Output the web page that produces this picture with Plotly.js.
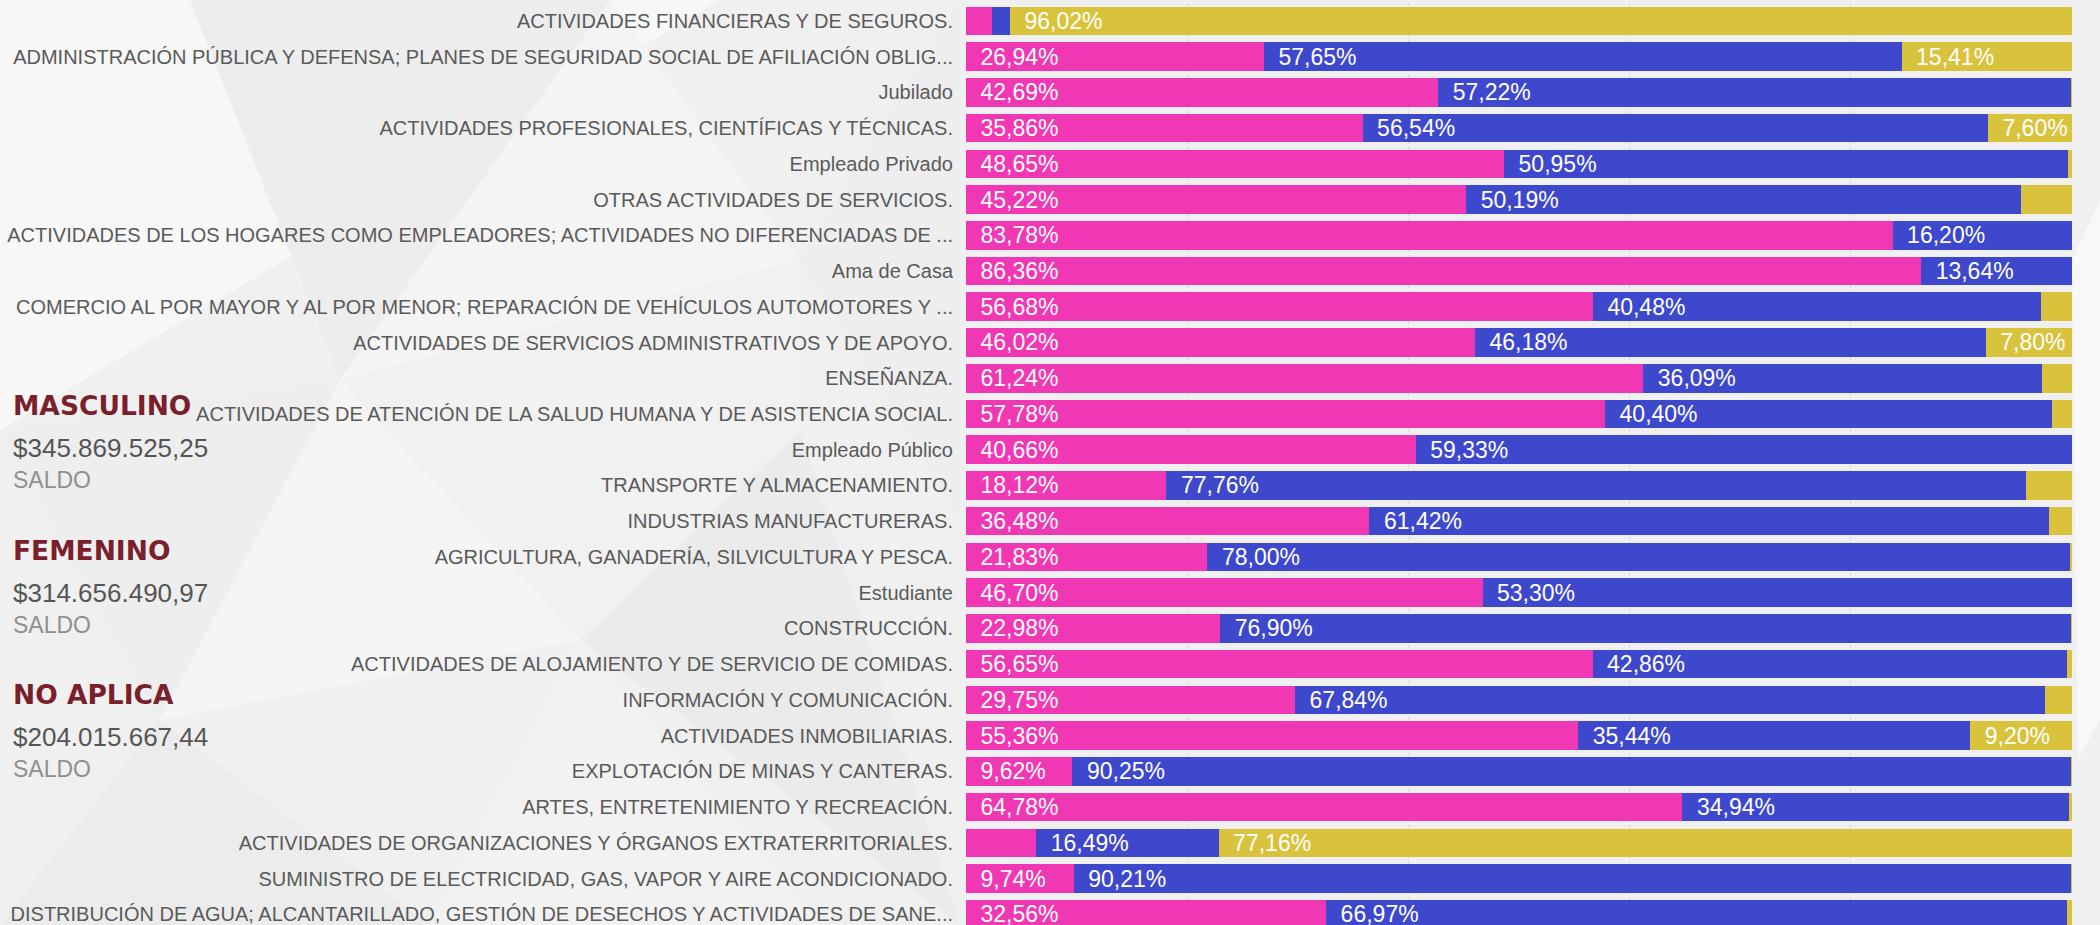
<!DOCTYPE html>
<html>
<head>
<meta charset="utf-8">
<script src="https://cdn.plot.ly/plotly-3.0.1.min.js"></script>
<style>
html,body{margin:0;padding:0;overflow:hidden;width:2100px;height:925px;}
body{background:rgb(240,240,240) url("data:image/svg+xml;utf8,<svg xmlns='http://www.w3.org/2000/svg' width='2100' height='925'><rect width='2100' height='925' fill='rgb(240,240,240)'/><polygon points='0,0 720,0 0,430' fill='rgb(247,247,247)'/><polygon points='190,0 610,0 340,380' fill='rgb(237,237,237)'/><polygon points='340,380 610,0 800,260' fill='rgb(244,244,244)'/><polygon points='0,430 340,380 160,720' fill='rgb(238,238,238)'/><polygon points='160,720 340,380 580,640' fill='rgb(245,245,245)'/><polygon points='0,925 160,720 430,925' fill='rgb(236,236,236)'/><polygon points='430,925 580,640 820,925' fill='rgb(242,242,242)'/><polygon points='580,640 800,430 960,925' fill='rgb(235,235,235)'/><polygon points='800,260 960,0 960,520' fill='rgb(238,238,238)'/><polygon points='340,380 800,260 800,430 580,640' fill='rgb(241,241,241)'/><polygon points='2072,260 2100,200 2100,720 2078,760' fill='rgb(248,248,248)'/></svg>") no-repeat;}
#chart{width:2100px;height:925px;}
</style>
</head>
<body>
<div id="chart"></div>
<script>
// ---- data ----
const categories = [
  "ACTIVIDADES FINANCIERAS Y DE SEGUROS.",
  "ADMINISTRACIÓN PÚBLICA Y DEFENSA; PLANES DE SEGURIDAD SOCIAL DE AFILIACIÓN OBLIG...",
  "Jubilado",
  "ACTIVIDADES PROFESIONALES, CIENTÍFICAS Y TÉCNICAS.",
  "Empleado Privado",
  "OTRAS ACTIVIDADES DE SERVICIOS.",
  "ACTIVIDADES DE LOS HOGARES COMO EMPLEADORES; ACTIVIDADES NO DIFERENCIADAS DE ...",
  "Ama de Casa",
  "COMERCIO AL POR MAYOR Y AL POR MENOR; REPARACIÓN DE VEHÍCULOS AUTOMOTORES Y ...",
  "ACTIVIDADES DE SERVICIOS ADMINISTRATIVOS Y DE APOYO.",
  "ENSEÑANZA.",
  "ACTIVIDADES DE ATENCIÓN DE LA SALUD HUMANA Y DE ASISTENCIA SOCIAL.",
  "Empleado Público",
  "TRANSPORTE Y ALMACENAMIENTO.",
  "INDUSTRIAS MANUFACTURERAS.",
  "AGRICULTURA, GANADERÍA, SILVICULTURA Y PESCA.",
  "Estudiante",
  "CONSTRUCCIÓN.",
  "ACTIVIDADES DE ALOJAMIENTO Y DE SERVICIO DE COMIDAS.",
  "INFORMACIÓN Y COMUNICACIÓN.",
  "ACTIVIDADES INMOBILIARIAS.",
  "EXPLOTACIÓN DE MINAS Y CANTERAS.",
  "ARTES, ENTRETENIMIENTO Y RECREACIÓN.",
  "ACTIVIDADES DE ORGANIZACIONES Y ÓRGANOS EXTRATERRITORIALES.",
  "SUMINISTRO DE ELECTRICIDAD, GAS, VAPOR Y AIRE ACONDICIONADO.",
  "DISTRIBUCIÓN DE AGUA; ALCANTARILLADO, GESTIÓN DE DESECHOS Y ACTIVIDADES DE SANE..."
];
const femenino = [2.36, 26.94, 42.69, 35.86, 48.65, 45.22, 83.78, 86.36, 56.68, 46.02, 61.24, 57.78, 40.66, 18.12, 36.48, 21.83, 46.70, 22.98, 56.65, 29.75, 55.36, 9.62, 64.78, 6.35, 9.74, 32.56];
const masculino = [1.62, 57.65, 57.22, 56.54, 50.95, 50.19, 16.20, 13.64, 40.48, 46.18, 36.09, 40.40, 59.33, 77.76, 61.42, 78.00, 53.30, 76.90, 42.86, 67.84, 35.44, 90.25, 34.94, 16.49, 90.21, 66.97];
const noAplica = [96.02, 15.41, 0.09, 7.60, 0.40, 4.59, 0.02, 0.00, 2.84, 7.80, 2.67, 1.82, 0.01, 4.12, 2.10, 0.17, 0.00, 0.12, 0.49, 2.41, 9.20, 0.13, 0.28, 77.16, 0.05, 0.47];
const seriesNames = ["FEMENINO", "MASCULINO", "NO APLICA"];
const cardNames = ["MASCULINO", "FEMENINO", "NO APLICA"];
const cardValues = ["$345.869.525,25", "$314.656.490,97", "$204.015.667,44"];
const cardLabel = "SALDO";

// ---- layout helpers ----
const W = 2100, H = 925;
const M = {l: 966, r: 28, t: 3, b: 0};
const PW = W - M.l - M.r, PH = H - M.t - M.b;
const px2x = p => (p - M.l) / PW;
const py2y = p => 1 - (p - M.t) / PH;
const FONT = "Liberation Sans, Arial, sans-serif";
const colors = ["#F038B4", "#3E48CD", "#D9C23C"];

const fmt = v => v >= 7 ? "\u2002" + v.toFixed(2).replace(".", ",") + "%" : "";

const traces = [femenino, masculino, noAplica].map((vals, i) => ({
  type: "bar",
  orientation: "h",
  name: seriesNames[i],
  y: categories,
  x: vals,
  text: vals.map(fmt),
  textposition: "inside",
  insidetextanchor: "start",
  constraintext: "none",
  textfont: {family: FONT, size: 23, color: "#ffffff"},
  marker: {color: colors[i], line: {width: 0}},
  hoverinfo: "skip",
  cliponaxis: true
}));

const annotations = [];
const cardY = [405, 550, 694];
cardNames.forEach((n, i) => {
  const y0 = cardY[i];
  annotations.push({xref: "paper", yref: "paper", x: px2x(11), y: py2y(y0), xanchor: "left", yanchor: "middle", showarrow: false,
    text: "<b>" + n + "</b>", font: {family: "DejaVu Sans, sans-serif", size: 26.5, color: "#7A1F2C"}});
  annotations.push({xref: "paper", yref: "paper", x: px2x(11), y: py2y(y0 + 43), xanchor: "left", yanchor: "middle", showarrow: false,
    text: cardValues[i], font: {family: FONT, size: 26, color: "#555555"}});
  annotations.push({xref: "paper", yref: "paper", x: px2x(11), y: py2y(y0 + 75), xanchor: "left", yanchor: "middle", showarrow: false,
    text: cardLabel, font: {family: FONT, size: 23, color: "#8f8f8f"}});
});

const layout = {
  width: W, height: H,
  margin: M,
  paper_bgcolor: "rgba(0,0,0,0)",
  plot_bgcolor: "rgba(0,0,0,0)",
  barmode: "stack",
  bargap: 0.2,
  showlegend: false,
  xaxis: {range: [0, 100], dtick: 20, showgrid: true, gridcolor: "#d6d6d6", griddash: "dot", gridwidth: 1,
          showticklabels: false, zeroline: false, showline: false, fixedrange: true},
  yaxis: {type: "category", range: [25.3, -0.5], showgrid: false, zeroline: false, showline: false,
          ticks: "", ticklabelstandoff: 12,
          tickfont: {family: FONT, size: 20, color: "#5a5a5a"}, fixedrange: true},
  annotations: annotations
};

Plotly.newPlot("chart", traces, layout, {displayModeBar: false, staticPlot: true});
</script>
</body>
</html>
